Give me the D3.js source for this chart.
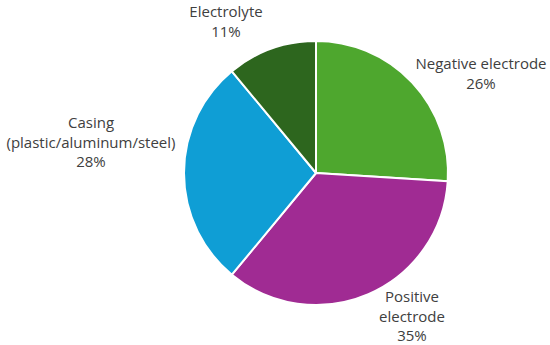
<!DOCTYPE html>
<html>
<head>
<meta charset="utf-8">
<script src="https://cdn.jsdelivr.net/npm/d3@7"></script>
<style>
  body { margin: 0; background: #fff; }
  #pie-chart text { font-family: "Open Sans", sans-serif; font-size: 15px; fill: #404040; }
</style>
</head>
<body>
<div id="pie-chart"></div>
<script>

// ------------------------ data ------------------------------

var categories = ["Negative electrode", "Positive electrode", "Casing (plastic/aluminum/steel)", "Electrolyte"];
var shares = [26, 35, 28, 11];
var labelLines = [
	["Negative electrode"],
	["Positive", "electrode"],
	["Casing", "(plastic/aluminum/steel)"],
	["Electrolyte"]
];
var colours = ["#4ea72e", "#a02b93", "#0f9ed5", "#2d661e"];

// ------------------------ #pie-chart ------------------------------

var build_pieChart = function() {

	var width = 550, height = 345;
	var cx = 316, cy = 173, radius = 132;

	// where the label block sits (first baseline), relative to the centre of the pie (layout only)
	var labelOffset = [ [165, -104], [96, 129], [-225, -45], [-90, -156] ];

	var svg = d3.select("#pie-chart").append("svg")
			.attr("width", width)
			.attr("height", height)
			.attr("viewBox", "0 0 " + width + " " + height)
				.append("g")
				.attr("transform", "translate(" + cx + "," + cy + ")");

	var data = categories.map(function(c, i) {
		return { category: c, value: shares[i], lines: labelLines[i], fill: colours[i], offset: labelOffset[i] };
	});

	var pie = d3.pie().sort(null).value(function(d) { return d.value; });
	var arc = d3.arc().innerRadius(0).outerRadius(radius);

	// slices
	svg.append("g").selectAll(".slice")
			.data(pie(data))
			.enter().append("path")
				.attr("class", "slice")
				.attr("d", arc)
				.attr("fill", function(d) { return d.data.fill; })
				.attr("stroke", "#fff")
				.attr("stroke-width", 2)
				.attr("stroke-linejoin", "round");

	// labels
	var lineH = 19.5;
	var labels = svg.append("g").selectAll(".label")
			.data(pie(data))
			.enter().append("text")
				.attr("class", "label")
				.attr("text-anchor", "middle")
				.attr("transform", function(d) { return "translate(" + d.data.offset[0] + "," + d.data.offset[1] + ")"; });

	labels.each(function(d) {
		var t = d3.select(this);
		var lines = d.data.lines.concat([d3.format(".0f")(d.data.value) + "%"]);
		lines.forEach(function(l, i) {
			t.append("tspan")
				.attr("x", 0)
				.attr("y", i * lineH)
				.text(l);
		});
	});

}

build_pieChart();
</script>
</body>
</html>
